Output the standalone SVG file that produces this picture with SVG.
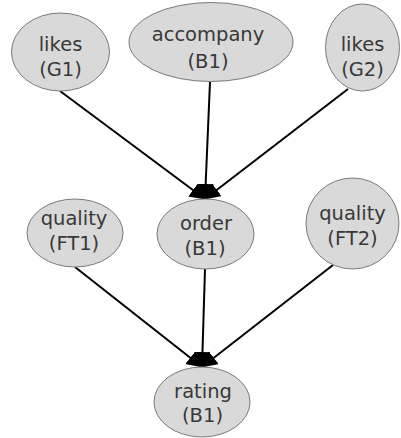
<svg xmlns="http://www.w3.org/2000/svg" width="401" height="438" viewBox="0 0 401 438">
  <style>
    .node ellipse { fill: #d9d9d9; stroke: #7a7a7a; stroke-width: 1; }
    .node text { font-family: "DejaVu Sans", Verdana, sans-serif; font-size: 19.5px; fill: #383838; text-anchor: middle; }
    .edge { stroke: #000; stroke-width: 2; fill: none; marker-end: url(#head); }
  </style>
  <defs>
    <marker id="head" markerUnits="userSpaceOnUse" markerWidth="18" markerHeight="18" refX="15" refY="8" orient="auto">
      <path d="M0,0 L16,8 L0,16 Z" fill="#000"/>
    </marker>
  </defs>
  <rect width="401" height="438" fill="#fff"/>

  <g id="edges">
    <line class="edge" x1="60" y1="91" x2="205" y2="199"/>
    <line class="edge" x1="210" y1="82" x2="205" y2="199"/>
    <line class="edge" x1="348" y1="89" x2="205" y2="199"/>
    <line class="edge" x1="75" y1="267" x2="202" y2="367"/>
    <line class="edge" x1="205" y1="269" x2="202" y2="367"/>
    <line class="edge" x1="333" y1="265" x2="202" y2="367"/>
  </g>

  <g id="likes-g1" class="node">
    <ellipse cx="60.5" cy="52" rx="49" ry="39"/>
    <text x="60.5" y="51">likes</text>
    <text x="60.5" y="76">(G1)</text>
  </g>
  <g id="accompany-b1" class="node">
    <ellipse cx="211" cy="42" rx="82" ry="39.5"/>
    <text x="208" y="41">accompany</text>
    <text x="208" y="68">(B1)</text>
  </g>
  <g id="likes-g2" class="node">
    <ellipse cx="362.5" cy="47.5" rx="37" ry="43.5"/>
    <text x="362.5" y="51">likes</text>
    <text x="362.5" y="76">(G2)</text>
  </g>
  <g id="quality-ft1" class="node">
    <ellipse cx="75" cy="233" rx="48" ry="34"/>
    <text x="74" y="225">quality</text>
    <text x="74" y="250">(FT1)</text>
  </g>
  <g id="order-b1" class="node">
    <ellipse cx="205.5" cy="234" rx="48.5" ry="35"/>
    <text x="206" y="230">order</text>
    <text x="205" y="255">(B1)</text>
  </g>
  <g id="quality-ft2" class="node">
    <ellipse cx="352.5" cy="223.5" rx="46.5" ry="45.5"/>
    <text x="352.5" y="220">quality</text>
    <text x="352.5" y="245">(FT2)</text>
  </g>
  <g id="rating-b1" class="node">
    <ellipse cx="202" cy="402" rx="48" ry="35"/>
    <text x="203" y="398">rating</text>
    <text x="202.5" y="422">(B1)</text>
  </g>
</svg>
